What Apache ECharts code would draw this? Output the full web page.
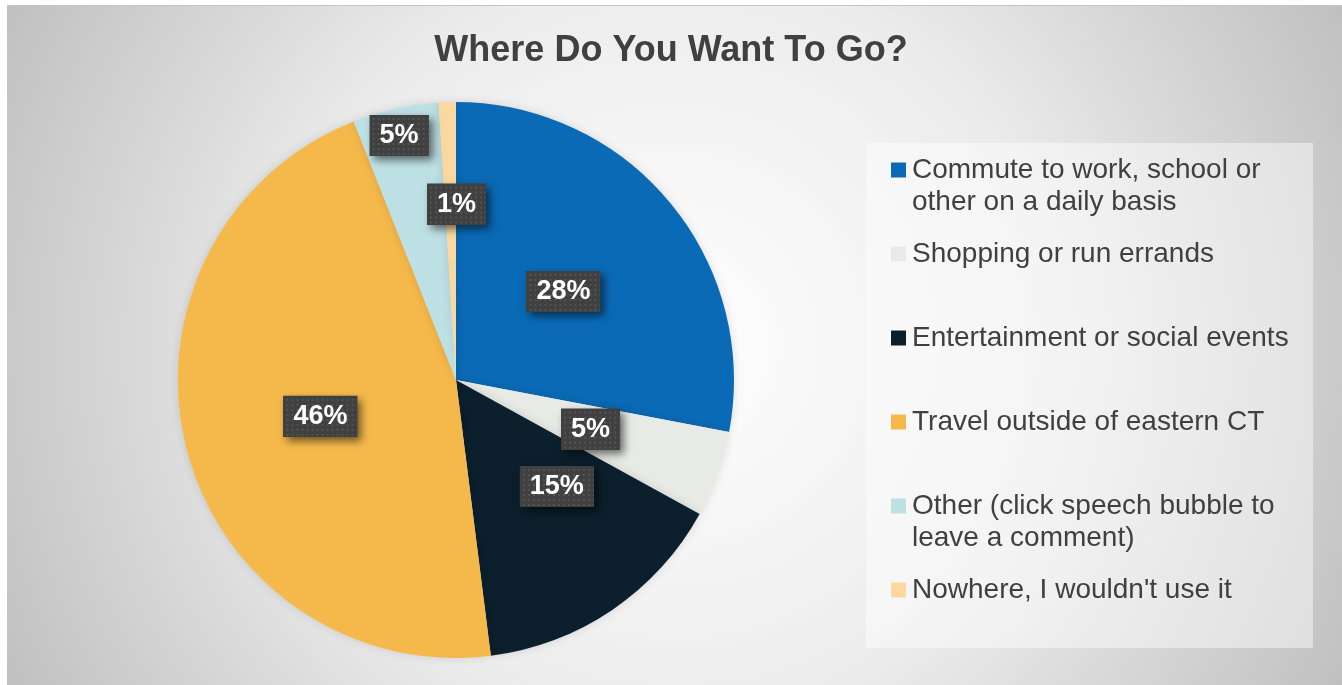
<!DOCTYPE html>
<html>
<head>
<meta charset="utf-8">
<script src="https://cdn.jsdelivr.net/npm/echarts@6/dist/echarts.min.js"></script>
<style>
  html, body { margin: 0; padding: 0; background: #ffffff; }
  #frame {
    position: absolute; left: 7px; top: 5px; width: 1335px; height: 680px;
    border-top: 1px solid #c4c4c4;
    background: radial-gradient(circle farthest-corner at 50% 50%, #ffffff 0%, #ececec 50%, #c0c0c0 100%);
  }
  #chart { position: absolute; left: 0; top: 0; width: 1342px; height: 685px; }
</style>
</head>
<body>
<div id="frame"></div>
<div id="chart"></div>
<script>
// Survey answers: where respondents want to go (percent of responses)
const categories = [
  'Commute to work, school or\nother on a daily basis',
  'Shopping or run errands',
  'Entertainment or social events',
  'Travel outside of eastern CT',
  'Other (click speech bubble to\nleave a comment)',
  "Nowhere, I wouldn't use it"
];
const percents = [28, 5, 15, 46, 5, 1];

const sliceColors = ['#0b6ab5', '#e8eae5', '#0b1f2c', '#f5b84b', '#bde0e5', '#fad9a0'];
// nudges for labels that sit off the slice's mid-radius point
const labelNudges = [[-2, 2], [1, 1], [21, -11], [2, 1], [-26, -106], [5, -34]];

const FONT = '"Liberation Sans", Arial, sans-serif';
const LABEL_SIZE = 27;
const BOX_H = 41;

// dark dotted tile used behind each percentage label
function dottedTile(w, h) {
  const c = document.createElement('canvas');
  c.width = w; c.height = h;
  const g = c.getContext('2d');
  g.fillStyle = '#404040';
  g.fillRect(0, 0, w, h);
  g.fillStyle = '#545454';
  for (let y = 3; y < h; y += 5) {
    for (let x = 3; x < w; x += 5) g.fillRect(x, y, 2, 2);
  }
  return c;
}

const measure = document.createElement('canvas').getContext('2d');
measure.font = 'bold ' + LABEL_SIZE + 'px ' + FONT;

const pieData = categories.map((name, i) => {
  const text = percents[i] + '%';
  const w = Math.round(measure.measureText(text).width) + 20;
  return {
    name: name,
    value: percents[i],
    itemStyle: { color: sliceColors[i] },
    label: {
      offset: labelNudges[i],
      rich: {
        p: {
          width: w,
          height: BOX_H,
          lineHeight: BOX_H,
          align: 'center',
          verticalAlign: 'middle',
          backgroundColor: { image: dottedTile(w, BOX_H) },
          fontFamily: FONT,
          fontSize: LABEL_SIZE,
          fontWeight: 'bold',
          color: '#ffffff'
        }
      }
    }
  };
});

// legend entries: coloured square inline with the first text line
const legendRich = {
  g: { width: 6 },
  s: { width: 21 },
  t: { fontFamily: FONT, fontSize: 28, lineHeight: 32, color: '#404040' }
};
sliceColors.forEach((c, i) => {
  legendRich['m' + i] = { width: 15, height: 15, backgroundColor: c };
});

function legendText(name) {
  const i = categories.indexOf(name);
  const lines = name.split('\n');
  const first = '{m' + i + '|}{g|}{t|' + lines[0] + '}';
  const second = lines.length > 1 ? '{s|}{t|' + lines[1] + '}' : '{t| }';
  return first + '\n' + second;
}

const chart = echarts.init(document.getElementById('chart'), null, { renderer: 'canvas' });
chart.setOption({
  animation: false,
  backgroundColor: 'transparent',
  title: {
    text: 'Where Do You Want To Go?',
    left: 'center',
    top: 28,
    textStyle: {
      fontFamily: FONT,
      fontSize: 36,
      fontWeight: 'bold',
      color: '#404040'
    }
  },
  graphic: [{
    type: 'rect',
    z: 0,
    silent: true,
    shape: { x: 866, y: 143, width: 447, height: 505 },
    style: { fill: 'rgba(255,255,255,0.45)' }
  }],
  legend: {
    orient: 'vertical',
    left: 886,
    top: 154,
    padding: 0,
    itemGap: 20,
    itemWidth: 0,
    itemHeight: 15,
    icon: 'rect',
    itemStyle: { opacity: 0 },
    selectedMode: false,
    data: categories,
    formatter: legendText,
    textStyle: {
      fontFamily: FONT,
      fontSize: 28,
      lineHeight: 32,
      color: '#404040',
      rich: legendRich
    }
  },
  series: [{
    type: 'pie',
    center: [456, 380],
    radius: 278,
    startAngle: 90,
    clockwise: true,
    avoidLabelOverlap: false,
    emphasis: { disabled: true },
    itemStyle: {
      borderWidth: 0,
      shadowBlur: 10,
      shadowColor: 'rgba(0,0,0,0.12)'
    },
    label: {
      show: true,
      position: 'inside',
      formatter: '{p|{c}%}',
      backgroundColor: '#404040',
      padding: 0,
      shadowBlur: 8,
      shadowOffsetX: 4,
      shadowOffsetY: 4,
      shadowColor: 'rgba(0,0,0,0.55)'
    },
    labelLine: { show: false },
    data: pieData
  }]
});
</script>
</body>
</html>
